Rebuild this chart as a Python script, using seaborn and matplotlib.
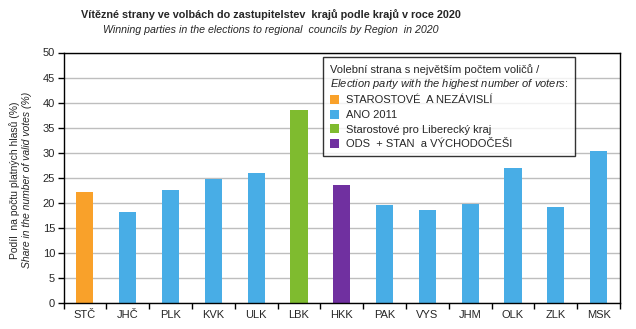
import matplotlib
matplotlib.use("Agg")
import matplotlib.pyplot as plt
import seaborn as sns
import pandas as pd
from matplotlib.patches import Patch
from matplotlib.ticker import FixedLocator, NullFormatter

regions = ["STČ", "JHČ", "PLK", "KVK", "ULK", "LBK", "HKK", "PAK", "VYS", "JHM", "OLK", "ZLK", "MSK"]
values = [22.1, 18.1, 22.5, 24.7, 25.9, 38.5, 23.5, 19.5, 18.5, 19.7, 26.9, 19.1, 30.3]
parties = ["STAN", "ANO", "ANO", "ANO", "ANO", "SLK", "ODS", "ANO", "ANO", "ANO", "ANO", "ANO", "ANO"]
party_labels = {
    "STAN": "STAROSTOVÉ  A NEZÁVISLÍ",
    "ANO": "ANO 2011",
    "SLK": "Starostové pro Liberecký kraj",
    "ODS": "ODS  + STAN  a VÝCHODOČEŠI",
}
party_colors = {"STAN": "#F9A12A", "ANO": "#48ADE6", "SLK": "#7FBB2F", "ODS": "#7030A0"}

sns.set_theme(style="white")
plt.rcParams["font.family"] = ["Liberation Sans", "DejaVu Sans"]
plt.rcParams["mathtext.fontset"] = "custom"
plt.rcParams["mathtext.it"] = "Liberation Sans:italic"
plt.rcParams["mathtext.rm"] = "Liberation Sans"

df = pd.DataFrame({"region": regions, "value": values, "party": parties})
pal = {r: party_colors[p] for r, p in zip(regions, parties)}

fig = plt.figure(figsize=(6.36, 3.29), dpi=100)
ax = fig.add_axes([63.5 / 636, 1 - 303 / 329, (620 - 63.5) / 636, (303 - 52.5) / 329])

sns.barplot(data=df, x="region", y="value", hue="region", palette=pal, width=0.4,
            legend=False, ax=ax, saturation=1, linewidth=0)

ax.set_ylim(0, 50)
ax.set_xlim(-0.5, len(regions) - 0.5)
ax.set_yticks(range(0, 51, 5))
ax.yaxis.grid(True, color="#BEBEBE", linewidth=1)
ax.set_axisbelow(True)
for s in ax.spines.values():
    s.set_color("black")
    s.set_linewidth(1)
ax.tick_params(axis="y", which="major", direction="out", length=4, width=1, color="black",
               labelsize=8, pad=2, left=True)
ax.tick_params(axis="x", which="major", length=0, labelsize=8, pad=5)
ax.xaxis.set_minor_locator(FixedLocator([i + 0.5 for i in range(-1, len(regions))]))
ax.xaxis.set_minor_formatter(NullFormatter())
ax.tick_params(axis="x", which="minor", direction="out", length=4, width=1, color="black", bottom=True)
ax.set_xlabel("")
ax.set_ylabel("")

fig.text(271 / 636, 1 - 15 / 329,
         "Vítězné strany ve volbách do zastupitelstev  krajů podle krajů v roce 2020",
         ha="center", va="center", fontsize=7.8, fontweight="bold")
fig.text(271 / 636, 1 - 30 / 329,
         "Winning parties in the elections to regional  councils by Region  in 2020",
         ha="center", va="center", fontsize=7.7, fontstyle="italic")

fig.text(15 / 636, 1 - 180 / 329, "Podíl  na počtu platných hlasů (%)",
         rotation=90, ha="center", va="center", fontsize=7.5)
fig.text(27 / 636, 1 - 180 / 329, "Share in the number of valid votes (%)",
         rotation=90, ha="center", va="center", fontsize=7.5, fontstyle="italic")

handles = [Patch(facecolor=party_colors[k], edgecolor="none", label=party_labels[k])
           for k in ["STAN", "ANO", "SLK", "ODS"]]
title = ("Volební strana s největším počtem voličů /\n"
         r"$\it{Election\ party\ with\ the\ highest\ number\ of\ voters}$:")
leg = ax.legend(handles=handles, title=title, loc="upper left",
                bbox_to_anchor=((323 - 63.5) / (620 - 63.5), 1 - (57 - 52.5) / (303 - 52.5)),
                fontsize=8, title_fontsize=8, alignment="left", frameon=True,
                fancybox=False, edgecolor="black", handlelength=0.85, handleheight=0.85,
                handletextpad=0.6, labelspacing=0.4, borderpad=0.6, borderaxespad=0)
leg.get_frame().set_linewidth(1)

fig.savefig("out.png", dpi=100)
